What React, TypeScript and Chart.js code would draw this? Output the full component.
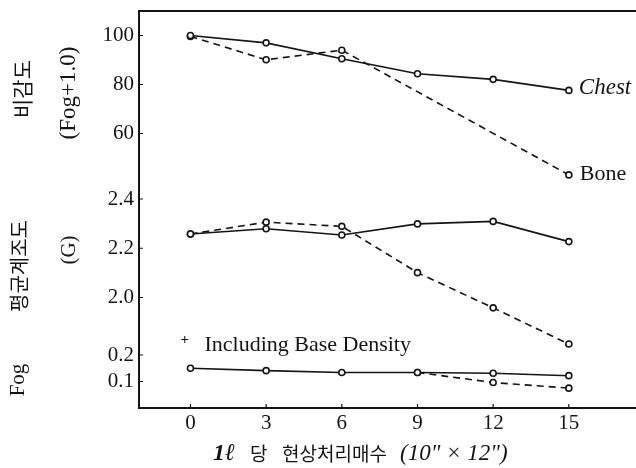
import React, { useEffect, useRef } from "react";
import { Chart, registerables } from "chart.js";

Chart.register(...registerables);

// ---------- data ----------
const xValues = [0, 3, 6, 9, 12, 15];
const xTickValues = [0, 3, 6, 9, 12, 15];

const chestSpeed = [100, 97, 90.5, 84.4, 82.1, 77.6];
const boneSpeed = [99.6, 90.1, 94.0, null, null, 43.1];

const chestGradient = [2.258, 2.279, 2.254, 2.299, 2.309, 2.227];
const boneGradient = [2.258, 2.306, 2.289, 2.101, 1.958, 1.811];

const chestFog = [0.15, 0.141, 0.134, 0.134, 0.131, 0.122];
const boneFog = [null, null, null, 0.134, 0.096, 0.075];

const speedTicks = [60, 80, 100];
const speedTickLabels = ["60", "80", "100"];
const gradientTicks = [2.0, 2.2, 2.4];
const gradientTickLabels = ["2.0", "2.2", "2.4"];
const fogTicks = [0.1, 0.2];
const fogTickLabels = ["0.1", "0.2"];

const seriesNames = ["Chest", "Bone"];
const noteText = "Including Base Density";
const noteMark = "+";
const speedTitle = "비감도";
const speedUnit = "(Fog+1.0)";
const gradientTitle = "평균계조도";
const gradientUnit = "(G)";
const fogTitle = "Fog";
const xTitleParts = ["1ℓ", "당", "현상처리매수", "(10\" × 12\")"];

// ---------- styling ----------
const INK = "#141414";
const SERIF = '"Liberation Serif", "DejaVu Serif", serif';
const KR = '"Noto Sans CJK KR", sans-serif';

const pts = (ys: (number | null)[]) => xValues.map((x, i) => ({ x, y: ys[i] }));

const lineStyle = (dashed: boolean) => ({
  borderColor: INK,
  borderWidth: 1.6,
  borderDash: dashed ? [7, 5] : [],
  pointRadius: 3,
  pointHoverRadius: 3,
  pointBorderWidth: 1.6,
  pointBorderColor: INK,
  pointBackgroundColor: "#ffffff",
  tension: 0,
  fill: false,
  spanGaps: true,
});

const labelFrom = (vals: number[], labels: string[]) => (v: number | string) => {
  const i = vals.findIndex((t) => Math.abs(t - Number(v)) < 1e-6);
  return i >= 0 ? labels[i] : "";
};

const yScale = (
  min: number,
  max: number,
  ticks: number[],
  labels: string[],
  stackWeight: number,
  weight: number
) => ({
  type: "linear" as const,
  position: "left" as const,
  stack: "left",
  stackWeight,
  weight,
  min,
  max,
  grid: { display: false, drawTicks: false },
  border: { display: false },
  afterBuildTicks: (s: any) => {
    s.ticks = ticks.map((v) => ({ value: v }));
  },
  afterFit: (s: any) => {
    s.width = 139;
    s.paddingTop = 0;
    s.paddingBottom = 0;
    s.paddingLeft = 0;
    s.paddingRight = 0;
  },
  ticks: {
    color: INK,
    font: { family: SERIF, size: 21 },
    padding: 5,
    callback: labelFrom(ticks, labels),
  },
});

const overlay = {
  id: "overlay",
  afterDraw(chart: any) {
    const { ctx, chartArea: a, scales } = chart;
    const xs = scales.x;
    const yt = scales.yTop;
    const ym = scales.yMid;
    const yb = scales.yBot;
    const W = chart.width;
    ctx.save();
    ctx.strokeStyle = INK;
    ctx.fillStyle = INK;

    // frame (top and bottom run to the page edge)
    ctx.lineWidth = 2;
    ctx.setLineDash([]);
    ctx.beginPath();
    ctx.moveTo(W, a.top);
    ctx.lineTo(a.left, a.top);
    ctx.lineTo(a.left, a.bottom);
    ctx.lineTo(W, a.bottom);
    ctx.stroke();

    // inward tick marks
    ctx.lineWidth = 1.2;
    ctx.beginPath();
    [yt, ym, yb].forEach((s: any) => {
      s.ticks.forEach((t: any) => {
        const y = s.getPixelForValue(t.value);
        ctx.moveTo(a.left, y);
        ctx.lineTo(a.left + 4, y);
      });
    });
    xs.ticks.forEach((t: any) => {
      const x = xs.getPixelForValue(t.value);
      ctx.moveTo(x, a.bottom);
      ctx.lineTo(x, a.bottom - 4);
    });
    ctx.stroke();

    // series labels
    ctx.textBaseline = "middle";
    ctx.textAlign = "left";
    const xEnd = xs.getPixelForValue(xValues[xValues.length - 1]);
    ctx.font = `italic 23px ${SERIF}`;
    ctx.fillText(seriesNames[0], xEnd + 10, yt.getPixelForValue(chestSpeed[5]) - 2);
    ctx.font = `22px ${SERIF}`;
    ctx.fillText(seriesNames[1], xEnd + 11, yt.getPixelForValue(boneSpeed[5] as number) - 1);

    // note
    const x0 = xs.getPixelForValue(0);
    const yNote = yb.getPixelForValue(0.2) - 10;
    ctx.font = `bold 15px ${SERIF}`;
    ctx.fillText(noteMark, x0 - 10, yNote - 5);
    ctx.font = `22px ${SERIF}`;
    ctx.fillText(noteText, x0 + 14, yNote);

    // rotated y titles
    const vtext = (text: string, font: string, cx: number, cy: number) => {
      ctx.save();
      ctx.translate(cx, cy);
      ctx.rotate(-Math.PI / 2);
      ctx.font = font;
      ctx.textAlign = "center";
      ctx.textBaseline = "middle";
      ctx.fillText(text, 0, 0);
      ctx.restore();
    };
    vtext(speedTitle, `21px ${KR}`, 22, 89);
    vtext(speedUnit, `23px ${SERIF}`, 69, 93);
    vtext(gradientTitle, `20px ${KR}`, 19, 266);
    vtext(gradientUnit, `21px ${SERIF}`, 69, 250);
    vtext(fogTitle, `21px ${SERIF}`, 18, 380);

    // x title
    const ty = 454;
    ctx.textAlign = "left";
    ctx.textBaseline = "middle";
    ctx.font = `bold italic 24px ${SERIF}`;
    ctx.fillText(xTitleParts[0], 213, ty);
    ctx.font = `19px ${KR}`;
    ctx.fillText(xTitleParts[1], 250, ty);
    ctx.fillText(xTitleParts[2], 282, ty);
    ctx.font = `italic 23px ${SERIF}`;
    ctx.fillText(xTitleParts[3], 400, ty);

    ctx.restore();
  },
};

export default function App() {
  const ref = useRef<HTMLCanvasElement | null>(null);

  useEffect(() => {
    if (!ref.current) return;
    const chart = new Chart(ref.current, {
      type: "line",
      data: {
        datasets: [
          { label: "Chest speed", data: pts(chestSpeed), yAxisID: "yTop", ...lineStyle(false) },
          { label: "Bone speed", data: pts(boneSpeed), yAxisID: "yTop", ...lineStyle(true) },
          { label: "Chest gradient", data: pts(chestGradient), yAxisID: "yMid", ...lineStyle(false) },
          { label: "Bone gradient", data: pts(boneGradient), yAxisID: "yMid", ...lineStyle(true) },
          { label: "Chest fog", data: pts(chestFog), yAxisID: "yBot", ...lineStyle(false) },
          { label: "Bone fog", data: pts(boneFog), yAxisID: "yBot", ...lineStyle(true) },
        ] as any,
      },
      options: {
        responsive: false,
        animation: false,
        devicePixelRatio: 1,
        layout: { padding: { top: 11, left: 0, right: 0, bottom: 0 } },
        plugins: {
          legend: { display: false },
          tooltip: { enabled: false },
          title: { display: false },
        },
        scales: {
          x: {
            type: "linear",
            position: "bottom",
            min: -2.04,
            max: 17.48,
            grid: { display: false, drawTicks: false },
            border: { display: false },
            afterBuildTicks: (s: any) => {
              s.ticks = xTickValues.map((v) => ({ value: v }));
            },
            afterFit: (s: any) => {
              s.height = 60;
              s.paddingLeft = 0;
              s.paddingRight = 0;
              s.paddingTop = 0;
              s.paddingBottom = 0;
            },
            ticks: {
              color: INK,
              font: { family: SERIF, size: 21 },
              padding: 3,
              maxRotation: 0,
              callback: (v: any) => String(v),
            },
          },
          yTop: yScale(41.02, 110.0, speedTicks, speedTickLabels, 169, 3),
          yMid: yScale(1.7868, 2.4772, gradientTicks, gradientTickLabels, 170, 2),
          yBot: yScale(0, 0.2189, fogTicks, fogTickLabels, 58, 1),
        } as any,
      },
      plugins: [overlay],
    });
    return () => chart.destroy();
  }, []);

  return (
    <div style={{ position: "absolute", left: 0, top: 0, width: 636, height: 468, background: "#fff" }}>
      <canvas ref={ref} width={636} height={468} style={{ display: "block" }} />
    </div>
  );
}
